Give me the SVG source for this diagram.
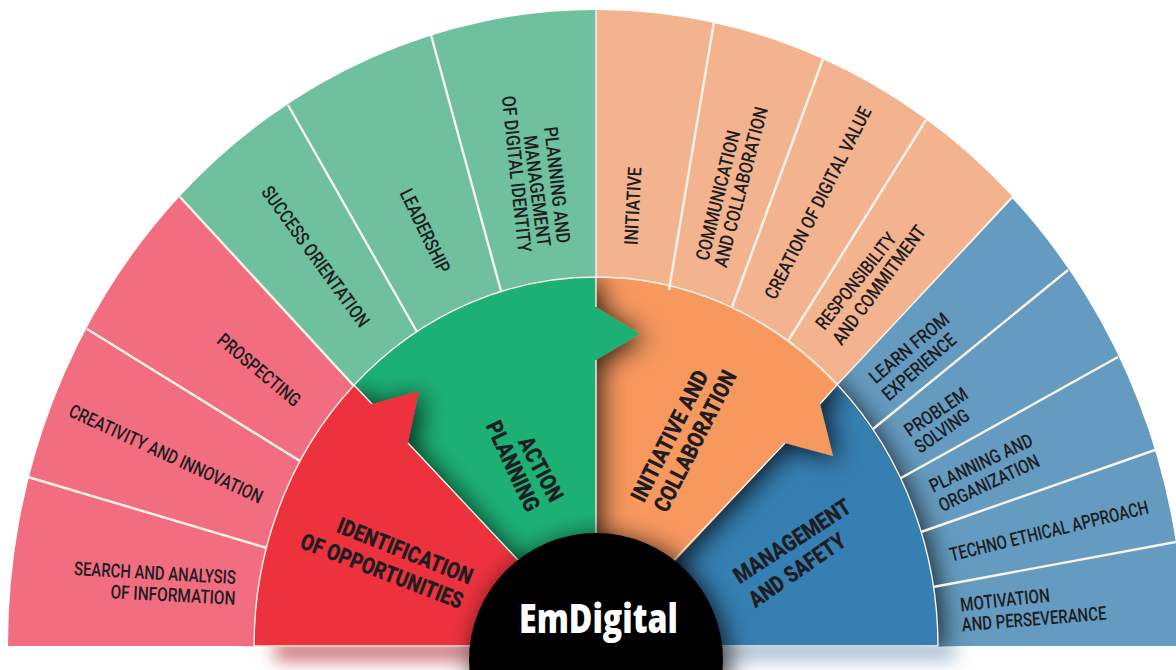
<svg xmlns="http://www.w3.org/2000/svg" width="1176" height="670" viewBox="0 0 1176 670">
<defs>
<style>
text{font-family:"Roboto","Liberation Sans",sans-serif;fill:#1d1d22;text-anchor:middle}
.o{font-size:19px;font-weight:500}
.m{font-size:23px;font-weight:900}
.t{font-size:41px;font-weight:800;font-family:"Open Sans","Liberation Sans",sans-serif;fill:#fff}
.d{stroke:#fbf3ea;stroke-width:2.4;fill:none}
.e{stroke:#fbf3ea;stroke-width:1.4;fill:none}
.sh{filter:url(#ds)}
</style>
<filter id="ds" x="-30%" y="-30%" width="160%" height="160%"><feDropShadow dx="5" dy="4" stdDeviation="13" flood-color="#000" flood-opacity="0.8"/></filter>
<filter id="bs" x="-20%" y="-300%" width="140%" height="700%"><feGaussianBlur stdDeviation="9"/></filter>
<clipPath id="top"><rect x="0" y="0" width="1176" height="647"/></clipPath>
</defs>
<rect width="1176" height="670" fill="#fff"/>
<g id="floor-shadow" filter="url(#bs)">
<rect x="275" y="642" width="205" height="18" fill="#c8666a"/>
<rect x="715" y="642" width="240" height="18" fill="#a3bace"/>
</g>
<g id="outer-blue-band">
<path d="M836 386L1012 198A588 636 0 0 1 1184 646L596 646Z" fill="#659bc0"/>
</g>
<g clip-path="url(#top)">
<g id="management-sector"><path class="sh" d="M836 386A342 369 0 0 1 938 646L596 646Z" fill="#347fb2"/></g>
<g id="initiative-sector"><path class="sh" d="M596 277A342 369 0 0 1 837 385L820 404L833 456L785 443L596 646Z" fill="#f7985f"/></g>
<g id="action-sector"><path class="sh" d="M354 385A342 369 0 0 1 596 277L596 307L640 334L596 360L596 646Z" fill="#1fb074"/></g>
<g id="identification-sector"><path class="sh" d="M254 646A342 369 0 0 1 354 385L372 404L419 391L408 443L596 646Z" fill="#ee303e"/></g>
</g>
<g id="band-red"><path d="M8 646A588 636 0 0 1 180 196L354 385A342 369 0 0 0 254 646Z" fill="#f26d80"/></g>
<g id="band-green"><path d="M180 196A588 636 0 0 1 596 10L596 277A342 369 0 0 0 354 385Z" fill="#6ec09e"/></g>
<g id="band-peach"><path d="M596 10A588 636 0 0 1 1012 196L836 386A342 369 0 0 0 596 277Z" fill="#f4b38f"/></g>
<g id="connectors">
<path class="d" d="M28 477L267 548M87 329L300 461M180 197L354 386M288 105L417 332M431 35L501 291M714 22L669 290M823 59L732 307M926 120L788 341M1068 270L873 429M1118 357L901 478M1155 450L921 532M1176 542L933 587"/>
<path class="e" d="M254 646A342 369 0 0 1 938 646M254 646L470 646M722 646L938 646M596 10L596 307M596 360L596 560M354 385L372 404M408 443L518 560M836 386L820 404M785 443L673 561M1012 198L836 386"/>
</g>
<g id="hub"><circle class="sh" cx="596" cy="660" r="127" fill="#000"/><text class="t" x="598.500" y="633" textLength="159" lengthAdjust="spacingAndGlyphs">EmDigital</text></g>
<g id="label-search"><text class="o" transform="translate(155 573) rotate(3.2)" y="6.500" textLength="162" lengthAdjust="spacingAndGlyphs">SEARCH AND ANALYSIS</text><text class="o" transform="translate(173 595) rotate(3)" y="6.500" textLength="125" lengthAdjust="spacingAndGlyphs">OF INFORMATION</text></g>
<g id="label-creativity"><text class="o" transform="translate(166 454) rotate(24.7)" y="6.500" textLength="211" lengthAdjust="spacingAndGlyphs">CREATIVITY AND INNOVATION</text></g>
<g id="label-prospecting"><text class="o" transform="translate(259 370) rotate(40)" y="6.500" textLength="102" lengthAdjust="spacingAndGlyphs">PROSPECTING</text></g>
<g id="label-success"><text class="o" transform="translate(315.500 256.500) rotate(54)" y="6.500" textLength="169" lengthAdjust="spacingAndGlyphs">SUCCESS ORIENTATION</text></g>
<g id="label-leadership"><text class="o" transform="translate(425 231) rotate(64)" y="6.500" textLength="91" lengthAdjust="spacingAndGlyphs">LEADERSHIP</text></g>
<g id="label-identity"><text class="o" transform="translate(557 185) rotate(83.6)" y="6.500" textLength="117" lengthAdjust="spacingAndGlyphs">PLANNING AND</text><text class="o" transform="translate(537 191) rotate(82.7)" y="6.500" textLength="112" lengthAdjust="spacingAndGlyphs">MANAGEMENT</text><text class="o" transform="translate(516.500 174) rotate(84)" y="6.500" textLength="157" lengthAdjust="spacingAndGlyphs">OF DIGITAL IDENTITY</text></g>
<g id="label-initiative"><text class="o" transform="translate(633 206) rotate(-87)" y="6.500" textLength="78" lengthAdjust="spacingAndGlyphs">INITIATIVE</text></g>
<g id="label-communication"><text class="o" transform="translate(718 195.500) rotate(-76)" y="6.500" textLength="133" lengthAdjust="spacingAndGlyphs">COMMUNICATION</text><text class="o" transform="translate(741 187) rotate(-75.400)" y="6.500" textLength="165" lengthAdjust="spacingAndGlyphs">AND COLLABORATION</text></g>
<g id="label-creation"><text class="o" transform="translate(818 203) rotate(-63)" y="6.500" textLength="213" lengthAdjust="spacingAndGlyphs">CREATION OF DIGITAL VALUE</text></g>
<g id="label-responsibility"><text class="o" transform="translate(856 281) rotate(-51.600)" y="6.500" textLength="117" lengthAdjust="spacingAndGlyphs">RESPONSIBILITY</text><text class="o" transform="translate(879 285) rotate(-53.500)" y="6.500" textLength="143" lengthAdjust="spacingAndGlyphs">AND COMMITMENT</text></g>
<g id="label-learn"><text class="o" transform="translate(909 348) rotate(-40)" y="6.500" textLength="98" lengthAdjust="spacingAndGlyphs">LEARN FROM</text><text class="o" transform="translate(919 367) rotate(-41)" y="6.500" textLength="91" lengthAdjust="spacingAndGlyphs">EXPERIENCE</text></g>
<g id="label-problem"><text class="o" transform="translate(936 412) rotate(-34)" y="6.500" textLength="72" lengthAdjust="spacingAndGlyphs">PROBLEM</text><text class="o" transform="translate(942 431) rotate(-35)" y="6.500" textLength="62" lengthAdjust="spacingAndGlyphs">SOLVING</text></g>
<g id="label-planning"><text class="o" transform="translate(981 463) rotate(-25.400)" y="6.500" textLength="112" lengthAdjust="spacingAndGlyphs">PLANNING AND</text><text class="o" transform="translate(989 483) rotate(-25.400)" y="6.500" textLength="109" lengthAdjust="spacingAndGlyphs">ORGANIZATION</text></g>
<g id="label-techno"><text class="o" transform="translate(1049 531) rotate(-13.700)" y="6.500" textLength="204" lengthAdjust="spacingAndGlyphs">TECHNO ETHICAL APPROACH</text></g>
<g id="label-motivation"><text class="o" transform="translate(1005 600) rotate(-6.400)" y="6.500" textLength="90" lengthAdjust="spacingAndGlyphs">MOTIVATION</text><text class="o" transform="translate(1034 619) rotate(-4.700)" y="6.500" textLength="145" lengthAdjust="spacingAndGlyphs">AND PERSEVERANCE</text></g>
<g id="label-identification"><text class="m" transform="translate(405 551) rotate(21.700)" y="8" textLength="144" lengthAdjust="spacingAndGlyphs">IDENTIFICATION</text><text class="m" transform="translate(382 571) rotate(21)" y="8" textLength="172" lengthAdjust="spacingAndGlyphs">OF OPPORTUNITIES</text></g>
<g id="label-action"><text class="m" transform="translate(541 469) rotate(62)" y="8" textLength="70" lengthAdjust="spacingAndGlyphs">ACTION</text><text class="m" transform="translate(513 466) rotate(65)" y="8" textLength="97" lengthAdjust="spacingAndGlyphs">PLANNING</text></g>
<g id="label-initiative-collab"><text class="m" transform="translate(669.500 436) rotate(-63)" y="8" textLength="144" lengthAdjust="spacingAndGlyphs">INITIATIVE AND</text><text class="m" transform="translate(695 441) rotate(-63)" y="8" textLength="155" lengthAdjust="spacingAndGlyphs">COLLABORATION</text></g>
<g id="label-management"><text class="m" transform="translate(792 541) rotate(-32.900)" y="8" textLength="135" lengthAdjust="spacingAndGlyphs">MANAGEMENT</text><text class="m" transform="translate(797 570) rotate(-34.600)" y="8" textLength="112" lengthAdjust="spacingAndGlyphs">AND SAFETY</text></g>
</svg>
